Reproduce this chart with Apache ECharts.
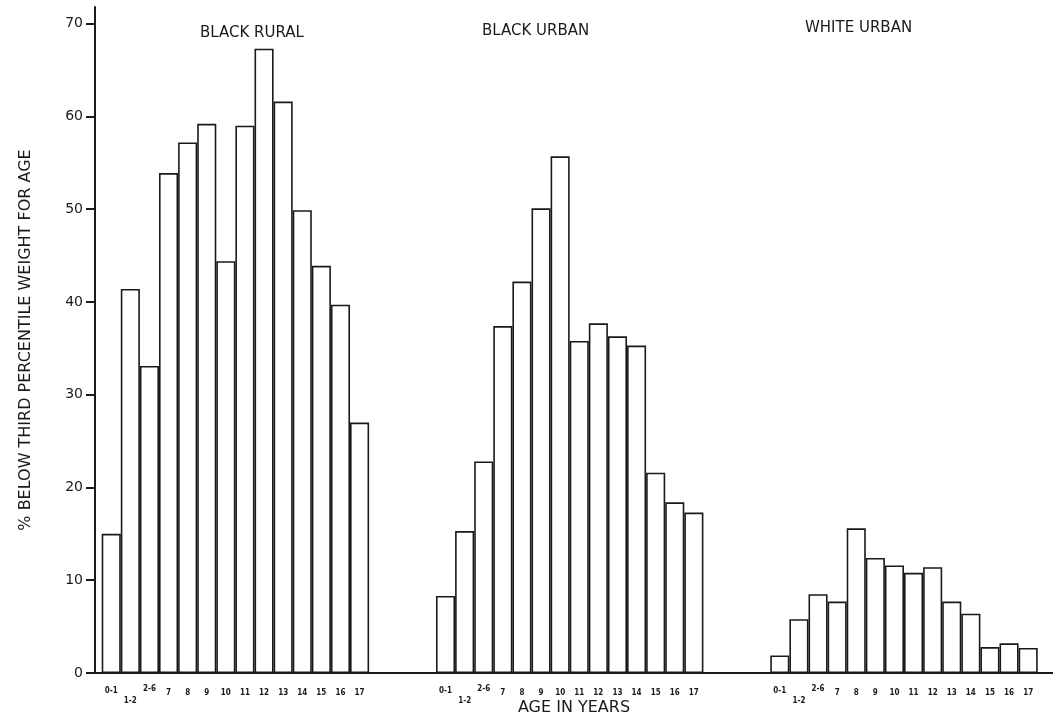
<!DOCTYPE html>
<html>
<head>
<meta charset="utf-8">
<script src="https://cdn.jsdelivr.net/npm/echarts@6/dist/echarts.min.js"></script>
<style>
html,body{margin:0;padding:0;background:#fff;}
#chart{width:1053px;height:727px;}
</style>
</head>
<body>
<div id="chart"></div>
<script>
// ---- data ----
const ageLabels = ['0-1','1-2','2-6','7','8','9','10','11','12','13','14','15','16','17'];
const groupNames = ['BLACK RURAL','BLACK URBAN','WHITE URBAN'];
const blackRural = [15.0, 41.4, 33.1, 53.9, 57.2, 59.2, 44.4, 59.0, 67.3, 61.6, 49.9, 43.9, 39.7, 27.0];
const blackUrban = [8.3, 15.3, 22.8, 37.4, 42.2, 50.1, 55.7, 35.8, 37.7, 36.3, 35.3, 21.6, 18.4, 17.3];
const whiteUrban = [1.9, 5.8, 8.5, 7.7, 15.6, 12.4, 11.6, 10.8, 11.4, 7.7, 6.4, 2.8, 3.2, 2.7];
const yTicks = [0, 10, 20, 30, 40, 50, 60, 70];

// ---- layout (group start positions on the x scale, in bar widths) ----
const groupStart = [0, 17.5, 35];
const groupValues = [blackRural, blackUrban, whiteUrban];

const labelByPos = {};
const xPositions = [];
const series = groupValues.map(function (vals, g) {
  return {
    name: groupNames[g],
    type: 'bar',
    barWidth: '100%',
    barGap: '-100%',
    itemStyle: { color: '#ffffff', borderColor: '#1a1a1a', borderWidth: 1.6 },
    emphasis: { disabled: true },
    data: vals.map(function (v, i) {
      const x = groupStart[g] + i + 0.5;
      xPositions.push(x);
      labelByPos[x.toFixed(2)] = i;
      return [x, v];
    })
  };
});

const titleStyle = { fontFamily: 'DejaVu Sans', fontSize: 15, fontWeight: 'normal', color: '#1a1a1a' };
const tickFont = { fontFamily: 'DejaVu Sans Condensed', fontWeight: 'bold', fontSize: 8, color: '#1a1a1a' };

const chart = echarts.init(document.getElementById('chart'), null, { renderer: 'canvas' });
chart.setOption({
  backgroundColor: '#ffffff',
  animation: false,
  title: [
    { text: groupNames[0], left: 200, top: 26, padding: 0, textStyle: titleStyle },
    { text: groupNames[1], left: 482, top: 24, padding: 0, textStyle: titleStyle },
    { text: groupNames[2], left: 805, top: 21, padding: 0, textStyle: titleStyle }
  ],
  grid: { left: 95, right: 0, top: 7, bottom: 54, containLabel: false, outerBoundsMode: 'none' },
  xAxis: {
    type: 'value',
    min: -0.35,
    max: 49.8,
    name: 'AGE IN YEARS',
    nameLocation: 'middle',
    nameGap: 27,
    nameMoveOverlap: false,
    nameTextStyle: { fontFamily: 'DejaVu Sans', fontSize: 16, color: '#1a1a1a' },
    splitLine: { show: false },
    axisLine: { show: true, onZero: false, lineStyle: { color: '#1a1a1a', width: 2 } },
    axisTick: { show: false },
    axisLabel: {
      customValues: xPositions,
      margin: 12,
      fontFamily: tickFont.fontFamily,
      fontWeight: tickFont.fontWeight,
      fontSize: tickFont.fontSize,
      color: tickFont.color,
      formatter: function (v) {
        const i = labelByPos[Number(v).toFixed(2)];
        const t = ageLabels[i];
        if (i === 1) return '{lo|' + t + '}';
        if (i === 2) return '{hi|' + t + '}';
        if (i === 0) return '{a|' + t + '}';
        return '{n|' + t + '}';
      },
      rich: {
        lo: Object.assign({ padding: [12, 0, 0, 0] }, tickFont),
        hi: Object.assign({ padding: [0, 0, 0, 0] }, tickFont),
        a: Object.assign({ padding: [2, 0, 0, 0] }, tickFont),
        n: Object.assign({ padding: [4, 0, 0, 0] }, tickFont)
      }
    }
  },
  yAxis: {
    type: 'value',
    min: 0,
    max: 71.8,
    name: '% BELOW THIRD PERCENTILE WEIGHT FOR AGE',
    nameLocation: 'middle',
    nameGap: 61,
    nameTextStyle: { fontFamily: 'DejaVu Sans', fontSize: 16, color: '#1a1a1a' },
    splitLine: { show: false },
    axisLine: { show: true, onZero: false, lineStyle: { color: '#1a1a1a', width: 2 } },
    axisTick: { show: true, customValues: yTicks, length: 9, lineStyle: { color: '#1a1a1a', width: 2 } },
    axisLabel: { customValues: yTicks, margin: 12, fontFamily: 'DejaVu Sans', fontSize: 14, color: '#1a1a1a' }
  },
  series: series
});
</script>
</body>
</html>
